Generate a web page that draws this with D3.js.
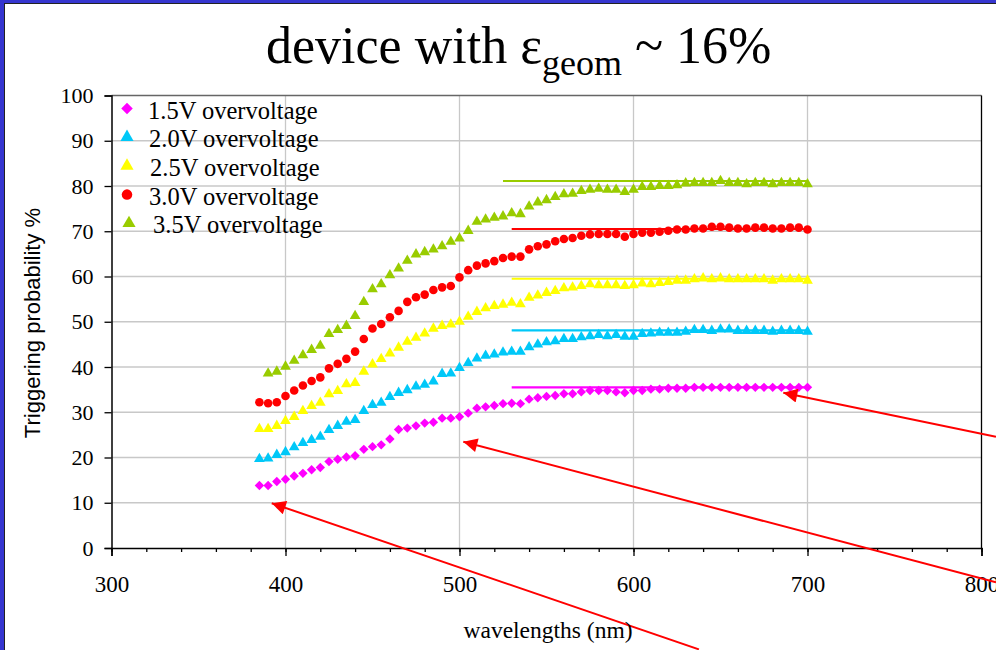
<!DOCTYPE html>
<html>
<head>
<meta charset="utf-8">
<script src="https://cdn.jsdelivr.net/npm/d3@7"></script>
<style>
  body { margin: 0; background: #fff; }
  svg { display: block; }
</style>
</head>
<body>
<div id="chart"></div>
<script>
// wavelengths (nm) of the measured points
const wavelengths = [385,390,395,400,405,410,415,420,425,430,
  435,440,445,450,455,460,465,470,475,480,
  485,490,495,500,505,510,515,520,525,530,
  535,540,545,550,555,560,565,570,575,580,
  585,590,595,600,605,610,615,620,625,630,
  635,640,645,650,655,660,665,670,675,680,
  685,690,695,700];

const v15 = [13.8,13.8,14.7,15.2,15.9,16.5,17.3,17.8,19.1,19.6,
  20.1,20.4,21.8,22.4,22.8,24.1,26.2,26.5,27.0,27.6,
  27.8,28.7,28.7,29.0,29.8,30.9,31.2,31.5,31.9,32.0,
  31.9,32.9,33.2,33.5,33.7,34.1,34.1,34.5,34.8,34.8,
  34.8,34.5,34.3,34.8,34.8,35.1,35.1,35.3,35.3,35.3,
  35.5,35.5,35.5,35.5,35.5,35.5,35.5,35.5,35.5,35.5,
  35.5,35.5,35.5,35.5];
const v20 = [19.7,19.8,20.6,21.2,22.3,23.2,23.9,24.6,26.1,27.0,
  27.9,28.3,30.3,31.6,32.1,33.4,34.3,34.9,35.7,36.1,
  36.8,38.5,38.6,39.8,40.9,41.9,42.5,42.8,43.2,43.4,
  43.4,44.4,45.0,45.5,45.7,46.2,46.2,46.6,46.8,47.1,
  46.8,47.1,46.7,46.7,47.3,47.4,47.6,47.6,47.6,47.8,
  48.2,48.2,48.0,48.3,48.3,48.0,48.0,48.0,48.0,47.8,
  48.0,48.0,48.0,47.8];
const v25 = [26.3,26.3,27.0,28.1,29.0,30.3,31.4,32.1,34.0,34.7,
  36.2,36.5,39.0,40.6,41.8,43.0,44.3,45.6,46.5,47.4,
  48.5,49.1,49.4,50.0,51.1,52.2,53.0,53.5,53.8,54.2,
  53.9,55.3,55.8,56.4,56.8,57.4,57.6,57.9,58.3,58.1,
  58.1,58.1,57.9,58.1,58.5,58.3,58.6,58.8,59.1,59.1,
  59.4,59.6,59.4,59.6,59.4,59.4,59.4,59.4,59.4,59.1,
  59.4,59.4,59.4,59.1];
const v30 = [32.2,32.0,32.2,33.6,34.8,35.9,36.9,37.7,39.7,40.7,
  41.8,43.4,46.2,48.5,49.5,51.0,52.4,54.4,55.4,56.0,
  57.0,57.6,57.9,59.8,61.4,62.4,62.9,63.4,64.1,64.4,
  64.4,66.0,66.7,67.1,67.8,68.3,68.5,69.0,69.3,69.4,
  69.4,69.4,68.8,69.4,69.7,69.7,69.9,70.1,70.4,70.4,
  70.6,70.6,71.0,71.0,70.8,70.6,70.6,70.8,70.8,70.6,
  70.6,70.8,70.8,70.4];
const v35 = [null,38.6,39.0,40.1,41.4,42.6,43.8,44.7,47.3,48.2,
  49.1,51.3,54.4,57.2,58.3,60.3,61.8,63.5,64.9,65.4,
  66.0,66.7,67.7,68.4,70.1,72.1,72.6,73.0,73.3,74.0,
  73.8,75.5,76.4,76.9,77.6,78.2,78.3,78.9,79.2,79.4,
  79.2,79.2,78.7,79.2,79.8,79.8,80.0,80.0,80.2,80.6,
  80.7,80.7,80.7,81.1,80.7,80.7,80.4,80.7,80.7,80.4,
  80.7,80.7,80.7,80.4];

const seriesNames = ["1.5V overvoltage", "2.0V overvoltage", "2.5V overvoltage", "3.0V overvoltage", "3.5V overvoltage"];
const seriesColors = ["#ff00ff", "#00c8f8", "#ffff00", "#ff0000", "#99cc00"];
const seriesShapes = ["diamond", "triangle", "triangle", "circle", "triangle"];
const seriesValues = [v15, v20, v25, v30, v35];

// saturation levels (horizontal lines) and where they start
const plateauLevels = [35.5, 48.1, 59.5, 70.5, 81.1];
const plateauStart = [530, 530, 530, 530, 525];
const plateauEnd = 700;

// arrows drawn over the chart: [tail nm, tail %, tip nm, tip %]
const arrows = [
  [637.6, -22.4, 392.1, 9.9],
  [808.3, -7.6, 502.2, 23.5],
  [808.3, 24.6, 686.1, 34.3]
];

const xTicks = [300, 400, 500, 600, 700, 800];
const yTicks = [0, 10, 20, 30, 40, 50, 60, 70, 80, 90, 100];

const W = 996, H = 650;
const margin = {top: 95.5, left: 111.5, right: 14.5, bottom: 102};
const width = W - margin.left - margin.right,
      height = H - margin.top - margin.bottom;

const serif = "'Liberation Serif', 'Times New Roman', serif";

const svg = d3.select("#chart").append("svg")
  .attr("width", W)
  .attr("height", H);

svg.append("rect").attr("width", W).attr("height", H).attr("fill", "#fff");

// blue slide frame (left + top)
svg.append("rect").attr("x", 0).attr("y", 0).attr("width", 4).attr("height", H).attr("fill", "#3535cf");
svg.append("rect").attr("x", 0).attr("y", 0).attr("width", W).attr("height", 3).attr("fill", "#3535cf");
svg.append("line").attr("x1", 4.5).attr("x2", 4.5).attr("y1", 3).attr("y2", H).attr("stroke", "#222").attr("stroke-width", 1);
svg.append("line").attr("x1", 4).attr("x2", W).attr("y1", 3.5).attr("y2", 3.5).attr("stroke", "#222").attr("stroke-width", 1);

// title
const title = svg.append("text")
  .attr("x", 266).attr("y", 63)
  .attr("font-family", serif)
  .attr("font-size", 52)
  .attr("fill", "#000");
title.append("tspan").text("device with ε");
title.append("tspan").attr("dy", 12).attr("font-size", 36).text("geom");
title.append("tspan").attr("dy", -12).text(" ~ 16%");

const g = svg.append("g").attr("transform", `translate(${margin.left},${margin.top})`);

const x = d3.scaleLinear().domain([300, 800]).range([0, width]);
const y = d3.scaleLinear().domain([0, 100]).range([height, 0]);

// grid
g.append("g")
  .selectAll("line")
  .data(yTicks.slice(1, -1))
  .join("line")
    .attr("x1", 0).attr("x2", width)
    .attr("y1", d => y(d)).attr("y2", d => y(d))
    .attr("stroke", "#c8c8c8").attr("stroke-width", 1.3);
g.append("g")
  .selectAll("line")
  .data(xTicks.slice(1, -1))
  .join("line")
    .attr("y1", 0).attr("y2", height)
    .attr("x1", d => x(d)).attr("x2", d => x(d))
    .attr("stroke", "#c8c8c8").attr("stroke-width", 1.3);

// plot border (top grey, right black)
g.append("line").attr("x1", 0).attr("x2", width).attr("y1", 0).attr("y2", 0)
  .attr("stroke", "#666").attr("stroke-width", 1.5);
g.append("line").attr("x1", width).attr("x2", width).attr("y1", 0).attr("y2", height)
  .attr("stroke", "#000").attr("stroke-width", 1.3);

// x axis: minor ticks every 20 nm, then major ticks with labels
const xAxis = g.append("g")
  .attr("transform", `translate(0,${height})`)
  .call(d3.axisBottom(x).tickValues(d3.range(300, 801, 20)).tickSize(4).tickFormat(""));
xAxis.select(".domain").remove();
g.append("g")
  .attr("transform", `translate(0,${height})`)
  .call(d3.axisBottom(x).tickValues(xTicks).tickSize(8).tickPadding(20))
  .call(a => a.select(".domain").attr("stroke-width", 1.5))
  .call(a => a.selectAll("text")
    .attr("font-family", serif)
    .attr("font-size", 23).attr("fill", "#000"));
g.selectAll(".tick line").attr("stroke", "#000").attr("stroke-width", 1.3);

// y axis
g.append("g")
  .call(d3.axisLeft(y).tickValues(yTicks).tickSize(7).tickPadding(11))
  .call(a => a.select(".domain").attr("stroke-width", 1.5))
  .call(a => a.selectAll(".tick line").attr("stroke-width", 1.3))
  .call(a => a.selectAll("text")
    .attr("font-family", serif)
    .attr("font-size", 22).attr("fill", "#000"));

// axis titles
svg.append("text")
  .attr("x", 548).attr("y", 638)
  .attr("text-anchor", "middle")
  .attr("font-family", serif)
  .attr("font-size", 23.5)
  .text("wavelengths (nm)");
svg.append("text")
  .attr("transform", "translate(40,323) rotate(-90)")
  .attr("text-anchor", "middle")
  .attr("font-family", "'Liberation Sans', Arial, sans-serif")
  .attr("font-size", 22)
  .text("Triggering probability %");

function symbolPath(shape, scale) {
  if (shape === "diamond") return d3.symbol(d3.symbolSquare, 44 * scale)();
  if (shape === "triangle") return d3.symbol(d3.symbolTriangle, 50 * scale)();
  return d3.symbol(d3.symbolCircle, 58 * scale)();
}
function symbolRot(shape) { return shape === "diamond" ? " rotate(45)" : ""; }

// plateau lines
const line = d3.line().x(d => x(d[0])).y(d => y(d[1]));
plateauLevels.forEach((lvl, i) => {
  g.append("path")
    .datum([[plateauStart[i], lvl], [plateauEnd, lvl]])
    .attr("fill", "none")
    .attr("stroke", seriesColors[i])
    .attr("stroke-width", 2.2)
    .attr("d", line);
});

// data points
seriesValues.forEach((vals, i) => {
  const pts = wavelengths.map((w, j) => [w, vals[j]]).filter(d => d[1] != null);
  g.append("g")
    .selectAll("path")
    .data(pts)
    .join("path")
      .attr("d", symbolPath(seriesShapes[i], 1))
      .attr("transform", d => `translate(${x(d[0])},${y(d[1])})${symbolRot(seriesShapes[i])}`)
      .attr("fill", seriesColors[i]);
});

// legend
const legendNudge = [0, 1, 2, 1, 5];
const legend = svg.append("g");
seriesNames.forEach((name, i) => {
  const ly = 108.5 + i * 28.7;
  legend.append("path")
    .attr("d", symbolPath(seriesShapes[i], 1.5))
    .attr("transform", `translate(${127 + (i === 4 ? 2 : 0)},${ly})${symbolRot(seriesShapes[i])}`)
    .attr("fill", seriesColors[i]);
  legend.append("text")
    .attr("x", 148 + legendNudge[i]).attr("y", ly + 10)
    .attr("font-family", serif)
    .attr("font-size", 24.5)
    .text(name);
});

// red arrows
svg.append("defs").append("marker")
  .attr("id", "arrowhead")
  .attr("viewBox", "0 0 10 10")
  .attr("refX", 10).attr("refY", 5)
  .attr("markerWidth", 8).attr("markerHeight", 7)
  .attr("markerUnits", "strokeWidth")
  .attr("orient", "auto")
  .append("path").attr("d", "M0,0 L10,5 L0,10 Z").attr("fill", "#ff0000");
arrows.forEach(a => {
  g.append("line")
    .attr("x1", x(a[0])).attr("y1", y(a[1]))
    .attr("x2", x(a[2])).attr("y2", y(a[3]))
    .attr("stroke", "#ff0000")
    .attr("stroke-width", 2)
    .attr("marker-end", "url(#arrowhead)");
});
</script>
</body>
</html>
